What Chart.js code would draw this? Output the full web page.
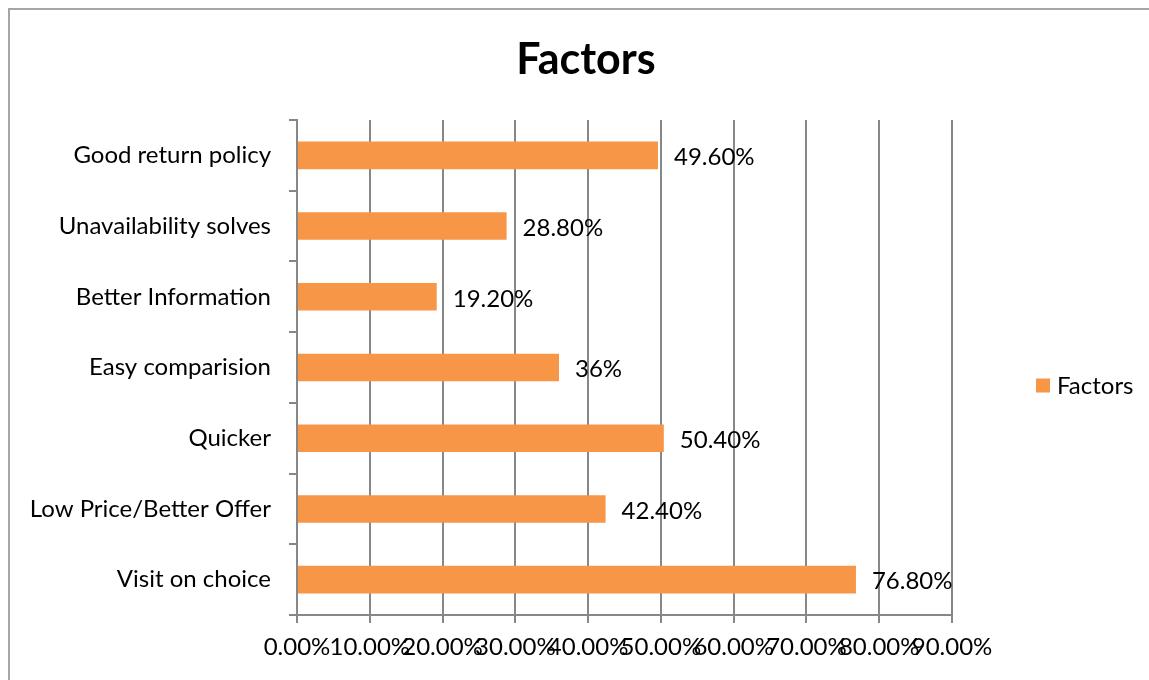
<!DOCTYPE html>
<html>
<head>
<meta charset="utf-8">
<script src="https://cdn.jsdelivr.net/npm/chart.js@4"></script>
<style>
  html, body { margin: 0; padding: 0; background: #fff; overflow: hidden; }
  #wrap { position: absolute; left: 0; top: 0; width: 1149px; height: 680px; }
  #frame { position: absolute; left: 8px; top: 8px; width: 1400px; height: 900px; border: 2px solid #a6a6a6; box-sizing: border-box; }
</style>
</head>
<body>
<div id="frame"></div>
<div id="wrap"><canvas id="c" width="1149" height="680"></canvas></div>
<script>
const categories = ['Good return policy', 'Unavailability solves', 'Better Information', 'Easy comparision', 'Quicker', 'Low Price/Better Offer', 'Visit on choice'];
const values = [49.6, 28.8, 19.2, 36, 50.4, 42.4, 76.8];
const valueLabels = ['49.60%', '28.80%', '19.20%', '36%', '50.40%', '42.40%', '76.80%'];
const xTicks = [0, 10, 20, 30, 40, 50, 60, 70, 80, 90];
const seriesName = 'Factors';
const chartTitle = 'Factors';

const FONT = 'Lato';
const GRID = '#878787';

const titlePlugin = {
  id: 'fixedTitle',
  afterDraw(chart) {
    const ctx = chart.ctx;
    ctx.save();
    ctx.font = 'bold 43px ' + FONT;
    ctx.fillStyle = '#000';
    ctx.textAlign = 'center';
    ctx.textBaseline = 'middle';
    ctx.fillText(chartTitle, 586, 60);
    ctx.restore();
  }
};

const dataLabelPlugin = {
  id: 'dataLabels',
  afterDatasetsDraw(chart) {
    const ctx = chart.ctx;
    const meta = chart.getDatasetMeta(0);
    ctx.save();
    ctx.font = '24px ' + FONT;
    ctx.fillStyle = '#000';
    ctx.textAlign = 'left';
    ctx.textBaseline = 'middle';
    meta.data.forEach((bar, i) => {
      ctx.fillText(valueLabels[i], bar.x + 16, bar.y + 2);
    });
    ctx.restore();
  }
};

const legendPlugin = {
  id: 'sideLegend',
  afterDraw(chart) {
    const ctx = chart.ctx;
    const ds = chart.data.datasets[0];
    const a = chart.chartArea;
    ctx.save();
    const x = 1036, y = (a.top + a.bottom) / 2 + 18;
    ctx.fillStyle = ds.backgroundColor;
    ctx.fillRect(x, y - 7, 14, 14);
    ctx.fillStyle = '#000';
    ctx.font = '24px ' + FONT;
    ctx.textAlign = 'left';
    ctx.textBaseline = 'middle';
    ctx.fillText(ds.label, x + 21, y + 1);
    ctx.restore();
  }
};

new Chart(document.getElementById('c'), {
  type: 'bar',
  data: {
    labels: categories,
    datasets: [{
      label: seriesName,
      data: values,
      backgroundColor: '#F79646',
      borderWidth: 0,
      categoryPercentage: 1,
      barPercentage: 0.39
    }]
  },
  options: {
    indexAxis: 'y',
    responsive: false,
    animation: false,
    events: [],
    layout: { padding: { left: 10, right: 197, top: 120, bottom: 0 } },
    plugins: {
      legend: { display: false },
      tooltip: { enabled: false },
      title: { display: false }
    },
    scales: {
      x: {
        type: 'linear',
        min: 0,
        max: 90,
        afterBuildTicks(scale) { scale.ticks = xTicks.map(v => ({ value: v })); },
        afterFit(scale) { scale.height = 65; },
        ticks: {
          autoSkip: false,
          maxRotation: 0,
          minRotation: 0,
          padding: 10,
          color: '#000',
          font: { family: FONT, size: 24 },
          callback: v => v.toFixed(2) + '%'
        },
        grid: { color: GRID, lineWidth: 2, tickLength: 8, drawTicks: true },
        border: { color: GRID, width: 2 }
      },
      y: {
        afterFit(scale) { scale.width = 287; },
        ticks: {
          color: '#000',
          padding: 18,
          font: { family: FONT, size: 24 }
        },
        grid: { display: true, drawOnChartArea: false, drawTicks: true, tickLength: 8, color: GRID, lineWidth: 2, offset: true },
        border: { color: GRID, width: 2 }
      }
    }
  },
  plugins: [dataLabelPlugin, legendPlugin, titlePlugin]
});
</script>
</body>
</html>
